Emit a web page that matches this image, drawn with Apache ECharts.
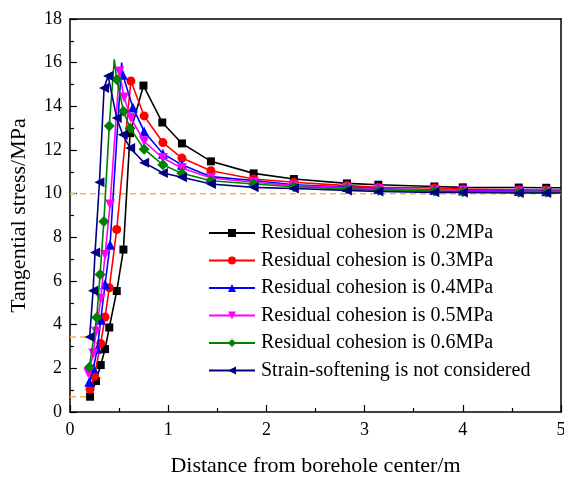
<!DOCTYPE html>
<html>
<head>
<meta charset="utf-8">
<script src="https://cdn.jsdelivr.net/npm/echarts@6/dist/echarts.min.js"></script>
<style>html,body{margin:0;padding:0;background:#fff}#chart{width:564px;height:477px}</style>
</head>
<body>
<div id="chart"></div>
<script>
// ---- data ----
const seriesNames = [
  'Residual cohesion is 0.2MPa',
  'Residual cohesion is 0.3MPa',
  'Residual cohesion is 0.4MPa',
  'Residual cohesion is 0.5MPa',
  'Residual cohesion is 0.6MPa',
  'Strain-softening is not considered'
];
const farX = [2.82, 3.14, 3.71, 4.0, 4.57, 4.85, 5.0];

const x02 = [0.204,0.265,0.313,0.357,0.40,0.476,0.544,0.612,0.748,0.94,1.14,1.435,1.87,2.28].concat(farX);
const y02 = [0.70,1.42,2.15,2.88,3.87,5.54,7.44,12.77,14.95,13.26,12.30,11.48,10.93,10.67,10.47,10.41,10.33,10.29,10.28,10.27,10.27];

const x03 = [0.204,0.248,0.313,0.357,0.40,0.476,0.62,0.755,0.946,1.14,1.435,1.87,2.28].concat(farX);
const y03 = [1.04,1.64,3.14,4.35,5.69,8.36,15.16,13.56,12.34,11.63,11.05,10.67,10.52,10.37,10.29,10.26,10.21,10.18,10.17,10.17];

const x04 = [0.197,0.238,0.279,0.313,0.357,0.408,0.526,0.537,0.64,0.755,0.946,1.14,1.435,1.87,2.28].concat(farX);
const y04 = [1.38,2.0,2.9,4.23,5.85,7.66,16.0,15.45,13.95,12.85,11.83,11.32,10.78,10.60,10.41,10.30,10.22,10.17,10.14,10.12,10.11,10.11];

const x05 = [0.187,0.238,0.265,0.313,0.357,0.408,0.503,0.551,0.62,0.755,0.946,1.14,1.435,1.87,2.28].concat(farX);
const y05 = [1.77,2.68,3.67,5.19,7.20,9.50,15.60,14.40,13.46,12.39,11.63,11.17,10.72,10.52,10.37,10.27,10.20,10.15,10.12,10.10,10.09,10.09];

const x06 = [0.197,0.272,0.306,0.345,0.40,0.451,0.476,0.544,0.612,0.755,0.946,1.14,1.435,1.87,2.28].concat(farX);
const y06 = [2.05,4.33,6.30,8.73,13.10,16.15,15.23,13.78,13.00,12.04,11.32,10.93,10.59,10.44,10.32,10.22,10.16,10.12,10.09,10.07,10.06,10.06];

const xNS = [0.20,0.235,0.255,0.30,0.347,0.388,0.476,0.537,0.612,0.755,0.946,1.14,1.435,1.87,2.28].concat(farX);
const yNS = [3.44,5.55,7.30,10.52,14.84,15.39,13.46,12.70,12.09,11.42,10.95,10.75,10.44,10.29,10.24,10.15,10.10,10.06,10.05,10.03,10.03,10.03];

// points drawn without a marker (line apex / end at the frame), per series
const unmarkedX = [[5.0], [5.0], [0.526, 5.0], [5.0], [0.451, 5.0], [5.0]];

// reference dashed lines: [x0, x1, y]
const refLines = [[0, 5, 10], [0, 0.2, 3.44], [0, 0.2, 0.70]];

const xTicks = {min: 0, max: 5, interval: 1};
const yTicks = {min: 0, max: 18, interval: 2};

// ---- styles ----
const colors = ['#000000', '#FF0000', '#0000FF', '#FF00FF', '#008000', '#000080'];
const symbols = [
  'rect',
  'circle',
  'path://M5,0 L10,9 L0,9 Z',
  'path://M0,0 L10,0 L5,9 Z',
  'path://M5,0 L10,5 L5,10 L0,5 Z',
  'path://M0,5 L9,0 L9,10 Z'
];
const symbolSizes = [8, 9, 10, 10, 11, 10];
const xs = [x02, x03, x04, x05, x06, xNS];
const ys = [y02, y03, y04, y05, y06, yNS];

const FONT = 'Liberation Serif';

const series = [];
refLines.forEach((r, i) => {
  series.push({
    name: 'ref' + i, type: 'line', silent: true, symbol: 'none', z: 1,
    data: [[r[0], r[2]], [r[1], r[2]]],
    lineStyle: {color: '#F5B53F', width: 1.5, type: [6, 4]}
  });
});
seriesNames.forEach((n, i) => {
  const d = xs[i].map((x, k) => {
    const item = {value: [x, ys[i][k]]};
    if (unmarkedX[i].indexOf(x) >= 0) item.symbol = 'none';
    return item;
  });
  series.push({
    name: n, type: 'line', data: d, z: 2 + i,
    symbol: symbols[i], symbolSize: symbolSizes[i],
    itemStyle: {color: colors[i]},
    lineStyle: {color: colors[i], width: 1.6, join: 'miter', miterLimit: 8},
    animation: false
  });
});

const axisCommon = {
  axisLine: {show: true, onZero: false, lineStyle: {color: '#000', width: 1.5}},
  splitLine: {show: false},
  axisTick: {show: true, inside: true, length: 7, lineStyle: {color: '#000', width: 1.2}},
  minorTick: {show: true, splitNumber: 2, length: 4, lineStyle: {color: '#000', width: 1.2}},
  axisLabel: {color: '#000', fontFamily: FONT, fontSize: 18}
};

const chart = echarts.init(document.getElementById('chart'), null, {renderer: 'canvas'});
chart.setOption({
  animation: false,
  backgroundColor: '#fff',
  grid: {left: 70, right: 3, top: 19, bottom: 65, containLabel: false, outerBoundsMode: 'none'},
  legend: {
    data: seriesNames, orient: 'vertical', left: 208, top: 223, padding: 0,
    itemWidth: 46, itemHeight: 10, itemGap: 7.5,
    textStyle: {color: '#000', fontFamily: FONT, fontSize: 20, padding: [0, 0, 0, 1]}
  },
  xAxis: [
    Object.assign({}, axisCommon, {
      type: 'value', position: 'bottom', min: xTicks.min, max: xTicks.max, interval: xTicks.interval,
      name: 'Distance from borehole center/m', nameLocation: 'middle', nameGap: 43,
      nameTextStyle: {color: '#000', fontFamily: FONT, fontSize: 22},
      axisLabel: {color: '#000', fontFamily: FONT, fontSize: 18, margin: 9}
    }),
    {type: 'value', position: 'top', min: xTicks.min, max: xTicks.max, interval: xTicks.interval,
     axisLine: {show: true, onZero: false, lineStyle: {color: '#000', width: 1.5}},
     axisTick: {show: false}, axisLabel: {show: false}, splitLine: {show: false}}
  ],
  yAxis: [
    Object.assign({}, axisCommon, {
      type: 'value', position: 'left', min: yTicks.min, max: yTicks.max, interval: yTicks.interval,
      name: 'Tangential stress/MPa', nameLocation: 'middle', nameGap: 40,
      nameTextStyle: {color: '#000', fontFamily: FONT, fontSize: 22},
      axisLabel: {color: '#000', fontFamily: FONT, fontSize: 18, margin: 8}
    }),
    {type: 'value', position: 'right', min: yTicks.min, max: yTicks.max, interval: yTicks.interval,
     axisLine: {show: true, onZero: false, lineStyle: {color: '#000', width: 1.5}},
     axisTick: {show: false}, axisLabel: {show: false}, splitLine: {show: false}}
  ],
  series: series
});
</script>
</body>
</html>
